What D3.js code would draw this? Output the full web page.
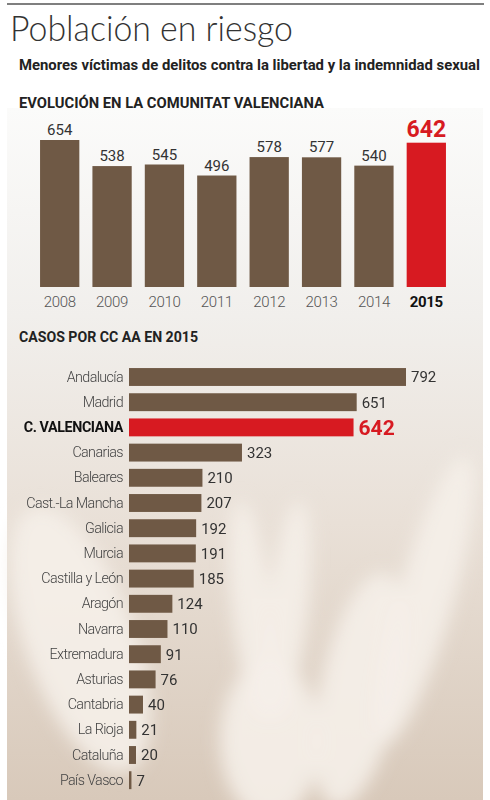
<!DOCTYPE html>
<html>
<head>
<meta charset="utf-8">
<script src="https://cdn.jsdelivr.net/npm/d3@7"></script>
<style>
  body { margin: 0; background: #fff; }
  svg { display: block; }
  .cond { font-family: Roboto, "Liberation Sans", sans-serif; }
</style>
</head>
<body>
<svg id="chart" width="490" height="800"></svg>
<script>
// evolution in the Comunitat Valenciana
let years = ["2008", "2009", "2010", "2011", "2012", "2013", "2014", "2015"],
    yearValues = [654, 538, 545, 496, 578, 577, 540, 642];

// cases per region, 2015
let regions = ["Andalucía", "Madrid", "C. VALENCIANA", "Canarias", "Baleares",
  "Cast.-La Mancha", "Galicia", "Murcia", "Castilla y León", "Aragón", "Navarra",
  "Extremadura", "Asturias", "Cantabria", "La Rioja", "Cataluña", "País Vasco"],
    regionValues = [792, 651, 642, 323, 210, 207, 192, 191, 185, 124, 110, 91, 76, 40, 21, 20, 7];

let brown = "#6f5945",
    red = "#d71a21",
    highlightYear = "2015",
    highlightRegion = "C. VALENCIANA";

let svg = d3.select("#chart");
let defs = svg.append("defs");

// photo-ish background
let grad = defs.append("linearGradient")
  .attr("id", "bg").attr("x1", 0).attr("y1", 0).attr("x2", 0).attr("y2", 1);
grad.append("stop").attr("offset", "0%").attr("stop-color", "#fbfbfa");
grad.append("stop").attr("offset", "30%").attr("stop-color", "#f1efec");
grad.append("stop").attr("offset", "60%").attr("stop-color", "#e9e0d7");
grad.append("stop").attr("offset", "100%").attr("stop-color", "#d8c9ba");

defs.append("filter").attr("id", "blur")
  .attr("x", "-50%").attr("y", "-50%").attr("width", "200%").attr("height", "200%")
  .append("feGaussianBlur").attr("stdDeviation", 9);

svg.append("rect")
  .attr("x", 7).attr("y", 108).attr("width", 476).attr("height", 692)
  .attr("fill", "url(#bg)");

let hands = svg.append("g").attr("filter", "url(#blur)");
// soft light shapes standing in for the hands in the photo
[[80, 640, 55, 140, -20], [252, 610, 20, 110, -6], [288, 610, 20, 110, 6],
 [425, 600, 28, 150, 16], [270, 740, 50, 80, 0], [360, 690, 40, 120, 12]]
  .forEach(([cx, cy, rx, ry, rot]) => {
    hands.append("ellipse")
      .attr("cx", cx).attr("cy", cy).attr("rx", rx).attr("ry", ry)
      .attr("transform", `rotate(${rot},${cx},${cy})`)
      .attr("fill", "#f5efe9").attr("opacity", 0.9);
  });

// top rule + titles
svg.append("line")
  .attr("x1", 7).attr("x2", 484).attr("y1", 4).attr("y2", 4)
  .attr("stroke", "#555").attr("stroke-width", 1.5);

svg.append("text")
  .attr("x", 10).attr("y", 41)
  .attr("font-family", "Lato, 'Open Sans', sans-serif")
  .attr("font-weight", 300)
  .attr("font-size", 35)
  .attr("fill", "#333")
  .attr("textLength", 283).attr("lengthAdjust", "spacingAndGlyphs")
  .text("Población en riesgo");

svg.append("text").attr("class", "cond")
  .attr("x", 19).attr("y", 70)
  .attr("font-size", 14.5).attr("font-weight", "bold").attr("fill", "#222")
  .attr("textLength", 461).attr("lengthAdjust", "spacingAndGlyphs")
  .text("Menores víctimas de delitos contra la libertad y la indemnidad sexual");

svg.append("text").attr("class", "cond")
  .attr("x", 19).attr("y", 108)
  .attr("font-size", 14).attr("font-weight", "bold").attr("fill", "#222")
  .attr("textLength", 305).attr("lengthAdjust", "spacingAndGlyphs")
  .text("EVOLUCIÓN EN LA COMUNITAT VALENCIANA");

svg.append("text").attr("class", "cond")
  .attr("x", 19).attr("y", 342)
  .attr("font-size", 14).attr("font-weight", "bold").attr("fill", "#222")
  .attr("textLength", 179).attr("lengthAdjust", "spacingAndGlyphs")
  .text("CASOS POR CC AA EN 2015");

// ---- column chart ----
let x = d3.scaleBand()
  .domain(years)
  .range([33.5, 452.5])
  .paddingInner(0.25)
  .paddingOuter(0.125);

let y = d3.scaleLinear()
  .domain([0, 654])
  .range([287, 140]);

let cols = svg.append("g");
cols.selectAll("rect")
  .data(years).enter()
  .append("rect")
  .attr("x", d => x(d))
  .attr("width", x.bandwidth())
  .attr("y", (d, i) => y(yearValues[i]))
  .attr("height", (d, i) => y(0) - y(yearValues[i]))
  .attr("fill", d => d === highlightYear ? red : brown);

cols.selectAll("text.val")
  .data(years).enter()
  .append("text")
  .attr("class", "val cond")
  .attr("x", d => x(d) + x.bandwidth() / 2)
  .attr("y", (d, i) => y(yearValues[i]) - (d === highlightYear ? 6 : 5))
  .attr("text-anchor", "middle")
  .attr("font-size", d => d === highlightYear ? 23 : 15)
  .attr("font-weight", d => d === highlightYear ? "bold" : "normal")
  .attr("fill", d => d === highlightYear ? red : "#333")
  .text((d, i) => yearValues[i]);

let xAxis = svg.append("g")
  .attr("transform", `translate(0,${y(0)})`)
  .call(d3.axisBottom(x).tickSize(0).tickPadding(9));
xAxis.select(".domain").remove();
xAxis.selectAll("text")
  .attr("class", "cond")
  .attr("font-family", null)
  .attr("font-size", 15)
  .attr("letter-spacing", -0.3)
  .attr("font-weight", d => d === highlightYear ? "bold" : 300)
  .attr("fill", d => d === highlightYear ? "#111" : "#555");

// ---- horizontal bar chart ----
let yb = d3.scaleBand()
  .domain(regions)
  .range([364.4, 792.8])
  .paddingInner(0.29)
  .paddingOuter(0.145);

let xb = d3.scaleLinear()
  .domain([0, 792])
  .range([129, 406]);

let bars = svg.append("g");
bars.selectAll("rect")
  .data(regions).enter()
  .append("rect")
  .attr("x", xb(0))
  .attr("y", d => yb(d))
  .attr("width", (d, i) => xb(regionValues[i]) - xb(0))
  .attr("height", yb.bandwidth())
  .attr("fill", d => d === highlightRegion ? red : brown);

bars.selectAll("text.val")
  .data(regions).enter()
  .append("text")
  .attr("class", "val cond")
  .attr("x", (d, i) => xb(regionValues[i]) + 5)
  .attr("y", d => yb(d) + yb.bandwidth() / 2)
  .attr("dy", "0.36em")
  .attr("font-size", d => d === highlightRegion ? 21 : 15)
  .attr("font-weight", d => d === highlightRegion ? "bold" : "normal")
  .attr("fill", d => d === highlightRegion ? red : "#333")
  .text((d, i) => regionValues[i]);

let yAxis = svg.append("g")
  .attr("transform", `translate(${xb(0)},0)`)
  .call(d3.axisLeft(yb).tickSize(0).tickPadding(6));
yAxis.select(".domain").remove();
yAxis.selectAll("text")
  .attr("class", "cond")
  .attr("font-family", null)
  .attr("font-size", 14.3)
  .attr("letter-spacing", d => d === highlightRegion ? -0.4 : -0.6)
  .attr("font-weight", d => d === highlightRegion ? "bold" : 300)
  .attr("fill", d => d === highlightRegion ? "#111" : "#444");
</script>
</body>
</html>
